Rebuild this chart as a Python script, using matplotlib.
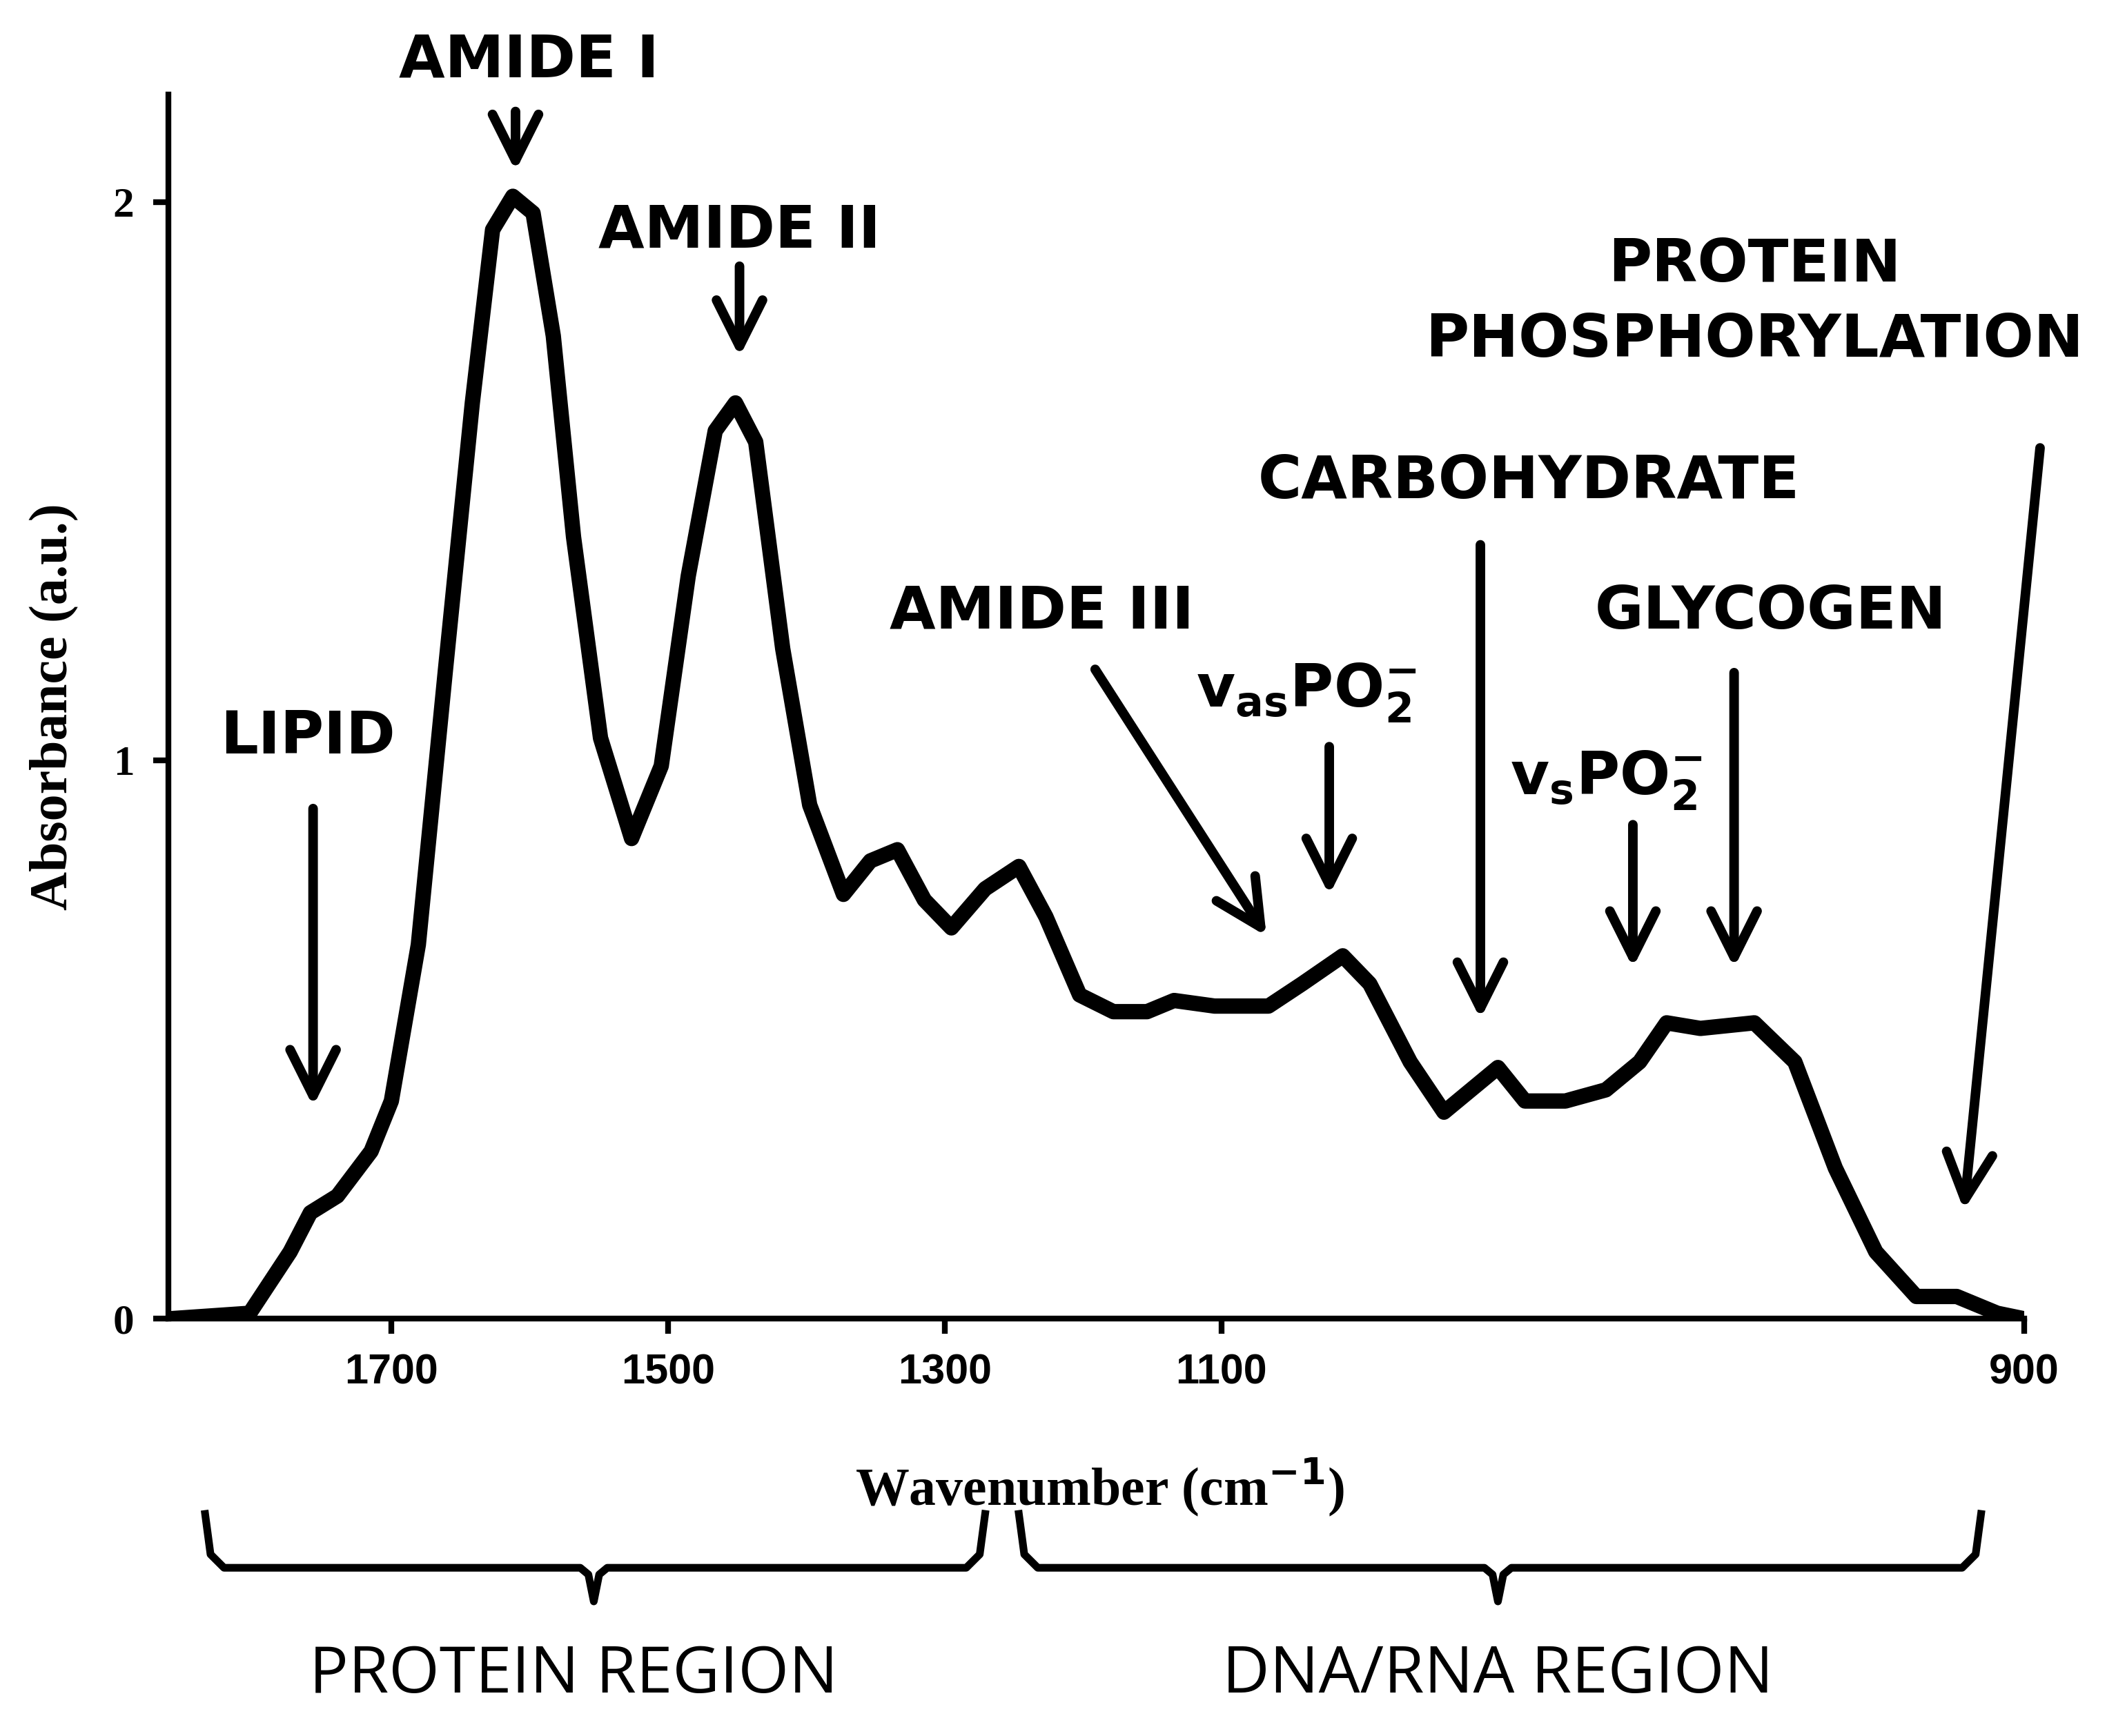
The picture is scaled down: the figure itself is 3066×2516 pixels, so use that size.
import numpy as np
import matplotlib.pyplot as plt

# curve: x in axis position units, y absorbance
pos = [125, 185, 215, 230, 250, 275, 290, 310, 330, 350, 365, 380, 395, 410, 425, 445,
       468, 490, 510, 530, 545, 560, 580, 600, 625, 645, 665, 685, 705, 730, 755, 775,
       800, 825, 850, 870, 900, 940, 965, 995, 1015, 1045, 1070, 1090, 1110, 1130, 1160,
       1190, 1215, 1235, 1260, 1300, 1330, 1360, 1390, 1420, 1450, 1480, 1500]
absorb = [0.0, 0.01, 0.12, 0.19, 0.22, 0.30, 0.39, 0.67, 1.16, 1.64, 1.95, 2.01, 1.98, 1.76,
          1.40, 1.04, 0.86, 0.99, 1.33, 1.59, 1.64, 1.57, 1.20, 0.92, 0.76, 0.82, 0.84, 0.75,
          0.70, 0.77, 0.81, 0.72, 0.58, 0.55, 0.55, 0.57, 0.56, 0.56, 0.60, 0.65, 0.60, 0.46,
          0.37, 0.41, 0.45, 0.39, 0.39, 0.41, 0.46, 0.53, 0.52, 0.53, 0.46, 0.27, 0.12, 0.04,
          0.04, 0.01, 0.0]

xtick_pos = [290, 495, 700, 905, 1500]
xtick_lab = ['1700', '1500', '1300', '1100', '900']
ytick_val = [0, 1, 2]

# annotations: label, text position, arrow start, arrow end (pixel units of the reference)
notes = [
    ('LIPID', (228, 548), (232, 598), (232, 825)),
    ('AMIDE I', (392, 45), (382, 80), (382, 130)),
    ('AMIDE II', (548, 172), (548, 195), (548, 268)),
    ('AMIDE III', (772, 455), (810, 495), (940, 698)),
    (r'$\mathregular{v_{as}PO_2^{-}}$', (968, 515), (985, 552), (985, 668)),
    ('CARBOHYDRATE', (1133, 358), (1097, 402), (1097, 760)),
    ('GLYCOGEN', (1312, 455), (1285, 497), (1285, 722)),
    (r'$\mathregular{v_{s}PO_2^{-}}$', (1190, 580), (1210, 610), (1210, 722)),
    ('PROTEIN\nPHOSPHORYLATION', (1300, 225), (1512, 330), (1455, 902)),
]

plt.rcParams['mathtext.fontset'] = 'custom'
plt.rcParams['mathtext.rm'] = 'DejaVu Sans:bold'

def py(v):
    return (980 - v) / 415.0

fig = plt.figure(figsize=(15.33, 12.58), dpi=200)
ax = fig.add_axes([125 / 1568, 1 - 980 / 1290, 1375 / 1568, 910 / 1290])
ax.plot(pos, absorb, color='black', lw=8, solid_joinstyle='round', solid_capstyle='round')
ax.set_xlim(125, 1500)
ax.set_ylim(0, py(70))
for s in ['top', 'right']:
    ax.spines[s].set_visible(False)
for s in ['left', 'bottom']:
    ax.spines[s].set_linewidth(3)
ax.set_xticks(xtick_pos)
ax.set_xticklabels(xtick_lab, fontsize=22, fontweight='bold', family='Liberation Sans')
ax.set_yticks(ytick_val)
ax.set_yticklabels([str(v) for v in ytick_val], fontsize=22, fontweight='bold', family='Liberation Serif')
ax.tick_params(width=3, length=8, pad=10)
ax.set_ylabel('Absorbance (a.u.)', fontsize=28, fontweight='bold', family='Liberation Serif', labelpad=18)

ax.text(815, py(1105), 'Wavenumber (cm$^{-1}$)', fontsize=28, fontweight='bold',
        family='Liberation Serif', ha='center', va='center', clip_on=False)

for lab, tp, a0, a1 in notes:
    ax.text(tp[0], py(tp[1]), lab, fontsize=31, fontweight='bold', ha='center', va='center',
            linespacing=1.4, clip_on=False)
    ax.annotate('', xy=(a1[0], py(a1[1])), xytext=(a0[0], py(a0[1])),
                arrowprops=dict(arrowstyle='->', lw=5, color='black', mutation_scale=60),
                annotation_clip=False)

# region brackets
for x0, x1, xm, lab in [(152, 730, 440, 'PROTEIN REGION'), (755, 1468, 1110, 'DNA/RNA REGION')]:
    bx = [x0, x0 + 4, x0 + 14, xm - 10, xm - 4, xm, xm + 4, xm + 10, x1 - 14, x1 - 4, x1]
    by = [1125, 1155, 1165, 1165, 1170, 1190, 1170, 1165, 1165, 1155, 1125]
    ax.plot(bx, [py(v) for v in by], color='black', lw=4, clip_on=False, solid_joinstyle='round')
    ax.text(xm - (15 if x0 < 500 else 0), py(1245), lab, fontsize=34, ha='center', va='center',
            family='Open Sans', clip_on=False)

fig.savefig('out.png', dpi=200, facecolor='white')
